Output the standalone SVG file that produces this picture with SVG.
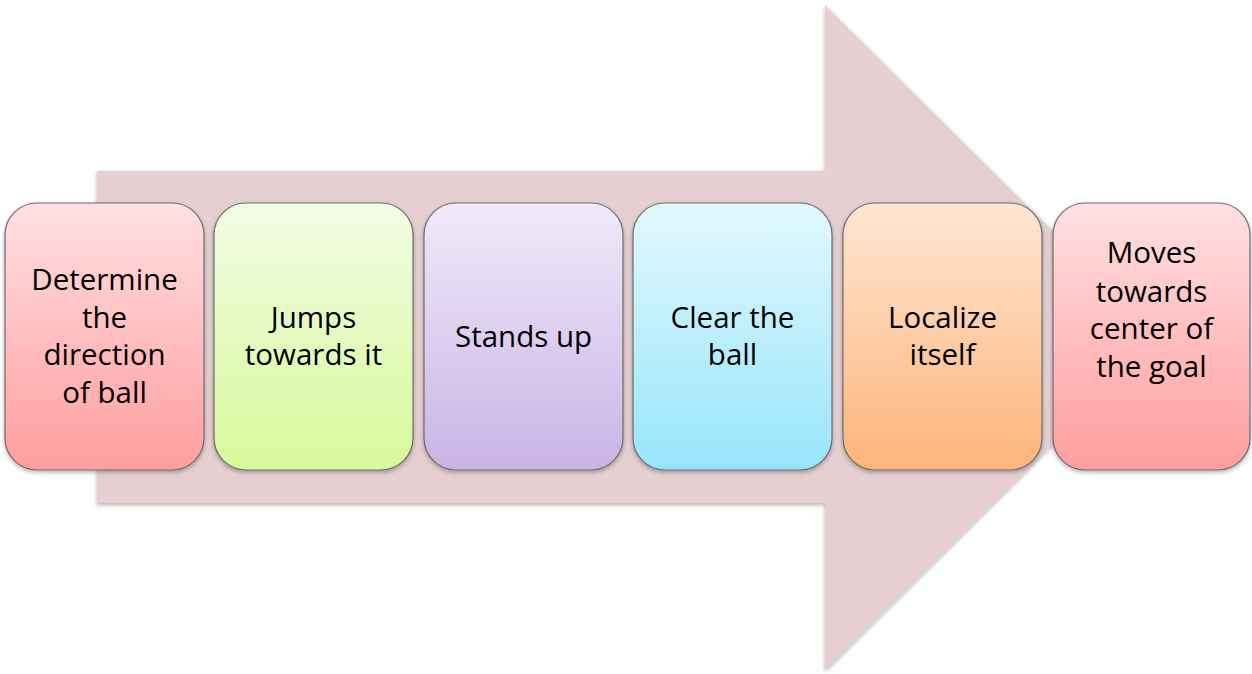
<svg xmlns="http://www.w3.org/2000/svg" width="1252" height="674" viewBox="0 0 1252 674">
<defs>
<linearGradient id="gPink" x1="0" y1="0" x2="0" y2="1"><stop offset="0" stop-color="#ffe0e3"/><stop offset="1" stop-color="#ff9d9e"/></linearGradient>
<linearGradient id="gGreen" x1="0" y1="0" x2="0" y2="1"><stop offset="0" stop-color="#f2fbe4"/><stop offset="1" stop-color="#d7f99a"/></linearGradient>
<linearGradient id="gPurple" x1="0" y1="0" x2="0" y2="1"><stop offset="0" stop-color="#f0eafa"/><stop offset="1" stop-color="#c9b3e5"/></linearGradient>
<linearGradient id="gCyan" x1="0" y1="0" x2="0" y2="1"><stop offset="0" stop-color="#e3f8fe"/><stop offset="1" stop-color="#97e5fb"/></linearGradient>
<linearGradient id="gOrange" x1="0" y1="0" x2="0" y2="1"><stop offset="0" stop-color="#fee6d3"/><stop offset="1" stop-color="#fdb47a"/></linearGradient>
<filter id="sh" x="-10%" y="-10%" width="120%" height="125%"><feDropShadow dx="0" dy="2" stdDeviation="2" flood-color="#000" flood-opacity="0.3"/></filter>
</defs>
<style>
.box{stroke:#6d6d6d;stroke-width:1.2;filter:url(#sh)}
.t{font-family:"Open Sans","Liberation Sans",sans-serif;font-size:29.5px;fill:#000;text-anchor:middle}
</style>
<g id="bigArrow">
<polygon points="97,171 825,171 825,5 1160,337 825,670 825,503 97,503" fill="#e5cfd0" filter="url(#sh)"/>
</g>
<g id="connectors"></g>
<g id="n1">
<rect class="box" x="5" y="203" width="199" height="267" rx="32" fill="url(#gPink)"/>
<text class="t" x="104.5" y="290">Determine</text>
<text class="t" x="104.5" y="328">the</text>
<text class="t" x="104.5" y="365">direction</text>
<text class="t" x="104.5" y="403">of ball</text>
</g>
<g id="n2">
<rect class="box" x="214" y="203" width="199" height="267" rx="32" fill="url(#gGreen)"/>
<text class="t" x="313.5" y="328">Jumps</text>
<text class="t" x="313.5" y="365">towards it</text>
</g>
<g id="n3">
<rect class="box" x="424" y="203" width="199" height="267" rx="32" fill="url(#gPurple)"/>
<text class="t" x="523.5" y="347">Stands up</text>
</g>
<g id="n4">
<rect class="box" x="633" y="203" width="199" height="267" rx="32" fill="url(#gCyan)"/>
<text class="t" x="732.5" y="328">Clear the</text>
<text class="t" x="732.5" y="365">ball</text>
</g>
<g id="n5">
<rect class="box" x="843" y="203" width="199" height="267" rx="32" fill="url(#gOrange)"/>
<text class="t" x="942.5" y="328">Localize</text>
<text class="t" x="942.5" y="365">itself</text>
</g>
<g id="n6">
<rect class="box" x="1053" y="203" width="197" height="267" rx="32" fill="url(#gPink)"/>
<text class="t" x="1151.5" y="263">Moves</text>
<text class="t" x="1151.5" y="302">towards</text>
<text class="t" x="1151.5" y="339">center of</text>
<text class="t" x="1151.5" y="377">the goal</text>
</g>
</svg>
